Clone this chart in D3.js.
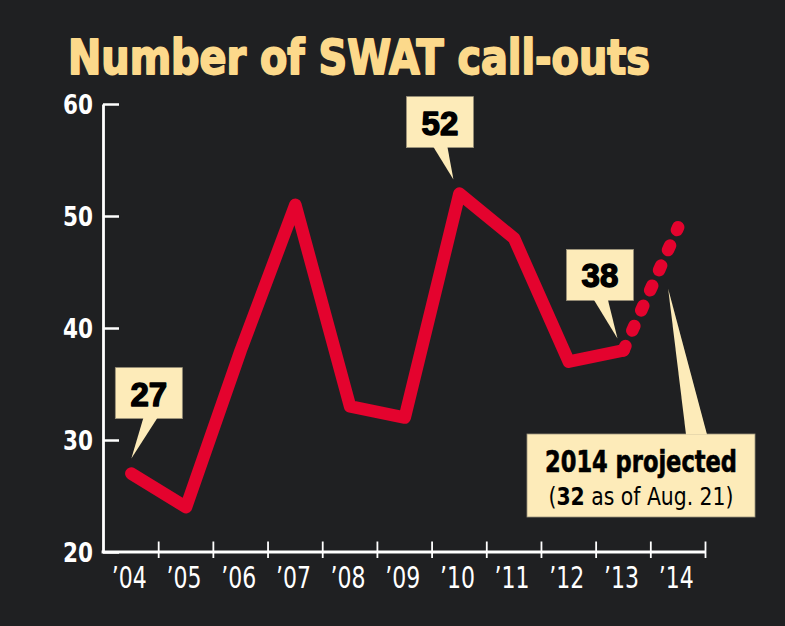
<!DOCTYPE html>
<html>
<head>
<meta charset="utf-8">
<script src="https://cdn.jsdelivr.net/npm/d3@7"></script>
<style>
  html, body { margin: 0; padding: 0; background: #1f2022; }
  svg { display: block; }
</style>
</head>
<body>
<svg id="chart" width="785" height="626"></svg>
<script>
// ---- data ----
const years = ["04","05","06","07","08","09","10","11","12","13","14"];
const tickLabels = ["\u201904","\u201905","\u201906","\u201907","\u201908","\u201909","\u201910","\u201911","\u201912","\u201913","\u201914"];
const callouts = [27, 24, 38, 51, 33, 32, 52, 48, 37, 38];   // '04 - '13
const projected2014 = 49;                                    // '14 projection
const yTicks = [20, 30, 40, 50, 60];
const titleText = "Number of SWAT call-outs";
const labelledYears = ["04", "10", "13"];

// ---- layout / style ----
const W = 785, H = 626;
const bg = "#1f2022", red = "#e4032e", cream = "#fdebb9", gold = "#fcd98b";
const condensed = "'Liberation Sans Narrow', 'DejaVu Sans Condensed', 'Arial Narrow', sans-serif";
const wide = "'Liberation Sans', Arial, sans-serif";

const svg = d3.select("#chart");
svg.append("rect").attr("width", W).attr("height", H).attr("fill", bg);

const x = d3.scaleBand().domain(years).range([104, 705.5]).padding(0);
const y = d3.scaleLinear().domain([20, 60]).range([552, 104]);
const xc = d => x(d) + x.bandwidth() / 2;

// title
svg.append("text")
  .attr("x", 68).attr("y", 74)
  .attr("font-family", condensed).attr("font-weight", "bold")
  .attr("font-size", 48).attr("fill", gold)
  .attr("stroke", gold).attr("stroke-width", 1.8).attr("stroke-linejoin", "round")
  .attr("textLength", 582).attr("lengthAdjust", "spacingAndGlyphs")
  .text(titleText);

// y axis
const yAxis = d3.axisLeft(y).tickValues(yTicks).tickSizeInner(-16).tickSizeOuter(0);
const gy = svg.append("g").attr("transform", "translate(103,0)").call(yAxis);
gy.select(".domain").attr("stroke", "#fff").attr("stroke-width", 2.8);
gy.selectAll(".tick line").attr("stroke", "#fff").attr("stroke-width", 2.5);
gy.selectAll(".tick text")
  .attr("fill", "#fff").attr("font-family", condensed).attr("font-weight", "bold")
  .attr("font-size", 26).attr("dy", "0.36em").attr("x", -10)
  .attr("textLength", 30).attr("lengthAdjust", "spacingAndGlyphs");

// x axis (labels at band centres, ticks at band edges)
const xAxis = d3.axisBottom(x).tickSize(0).tickPadding(14).tickFormat((d, i) => tickLabels[i]);
const gx = svg.append("g").attr("transform", "translate(0,552)").call(xAxis);
gx.select(".domain").remove();
gx.selectAll(".tick text")
  .attr("fill", "#fff").attr("font-family", condensed)
  .attr("font-size", 30).attr("dy", "0.72em").attr("dx", -2)
  .attr("textLength", 35).attr("lengthAdjust", "spacingAndGlyphs");

svg.append("line")
  .attr("x1", 103 - 1.4).attr("x2", x.range()[1]).attr("y1", 552).attr("y2", 552)
  .attr("stroke", "#fff").attr("stroke-width", 2.8);
svg.append("g").selectAll("line").data(years).join("line")
  .attr("x1", d => x(d) + x.bandwidth()).attr("x2", d => x(d) + x.bandwidth())
  .attr("y1", 541.5).attr("y2", 558)
  .attr("stroke", "#fff").attr("stroke-width", 1.8);

// line
const pts = years.slice(0, callouts.length).map((d, i) => [xc(d), y(callouts[i])]);
const line = d3.line();
svg.append("path").attr("d", line(pts))
  .attr("fill", "none").attr("stroke", red).attr("stroke-width", 12.5)
  .attr("stroke-linejoin", "round").attr("stroke-linecap", "round");

// projected segment drawn from the '14 end back to '13 so a dash sits on the end point
const projPts = [[xc("14"), y(projected2014)], pts[pts.length - 1]];
svg.append("path").attr("d", line(projPts))
  .attr("fill", "none").attr("stroke", red).attr("stroke-width", 12.5)
  .attr("stroke-linecap", "round").attr("stroke-dasharray", "5,17").attr("stroke-dashoffset", 2);

// callout boxes
const calloutLayout = {
  "04": { tipDx: 0,  tipDy: -15, boxDx: 17.5, gap: 40, baseDx: 1.5 },
  "10": { tipDx: -6, tipDy: -14, boxDx: -19.5, gap: 32, baseDx: 0.5 },
  "13": { tipDx: -6, tipDy: -12, boxDx: -23.5, gap: 38, baseDx: 1 }
};
const boxW = 67, boxH = 51;
labelledYears.forEach(yr => {
  const i = years.indexOf(yr);
  const L = calloutLayout[yr];
  const px = xc(yr), py = y(callouts[i]);
  const tx = px + L.tipDx, ty = py + L.tipDy;
  const bcx = px + L.boxDx, bb = ty - L.gap;
  const g = svg.append("g");
  g.append("rect").attr("x", bcx - boxW / 2).attr("y", bb - boxH)
    .attr("width", boxW).attr("height", boxH)
    .attr("fill", cream).attr("stroke", "#9a917a").attr("stroke-width", 0.8);
  g.append("path")
    .attr("d", `M${bcx + L.baseDx - 7},${bb - 0.5} L${tx},${ty} L${bcx + L.baseDx + 7},${bb - 0.5} Z`)
    .attr("fill", cream);
  g.append("text").attr("x", bcx).attr("y", bb - 13)
    .attr("text-anchor", "middle").attr("font-family", wide).attr("font-weight", "bold")
    .attr("font-size", 33).attr("fill", "#000")
    .attr("stroke", "#000").attr("stroke-width", 1.4).attr("stroke-linejoin", "round")
    .text(callouts[i]);
});

// projection note
const nb = { x: 527, y: 434, w: 228, h: 83 };
const ng = svg.append("g");
ng.append("rect").attr("x", nb.x).attr("y", nb.y).attr("width", nb.w).attr("height", nb.h)
  .attr("fill", cream).attr("stroke", "#9a917a").attr("stroke-width", 0.8);
ng.append("path")
  .attr("d", `M686,${nb.y + 0.5} L${xc("14") - 10},${y(43.5)} L707,${nb.y + 0.5} Z`)
  .attr("fill", cream);
ng.append("text").attr("x", nb.x + nb.w / 2).attr("y", 472)
  .attr("text-anchor", "middle").attr("font-family", condensed).attr("font-weight", "bold")
  .attr("font-size", 30).attr("fill", "#000")
  .attr("stroke", "#000").attr("stroke-width", 0.6)
  .attr("textLength", 192).attr("lengthAdjust", "spacingAndGlyphs")
  .text("2014 projected");
const t2 = ng.append("text").attr("x", nb.x + nb.w / 2).attr("y", 505)
  .attr("text-anchor", "middle").attr("font-family", condensed)
  .attr("font-size", 25).attr("fill", "#000")
  .attr("textLength", 185).attr("lengthAdjust", "spacingAndGlyphs");
t2.append("tspan").text("(");
t2.append("tspan").attr("font-weight", "bold").text("32");
t2.append("tspan").text(" as of Aug. 21)");
</script>
</body>
</html>
